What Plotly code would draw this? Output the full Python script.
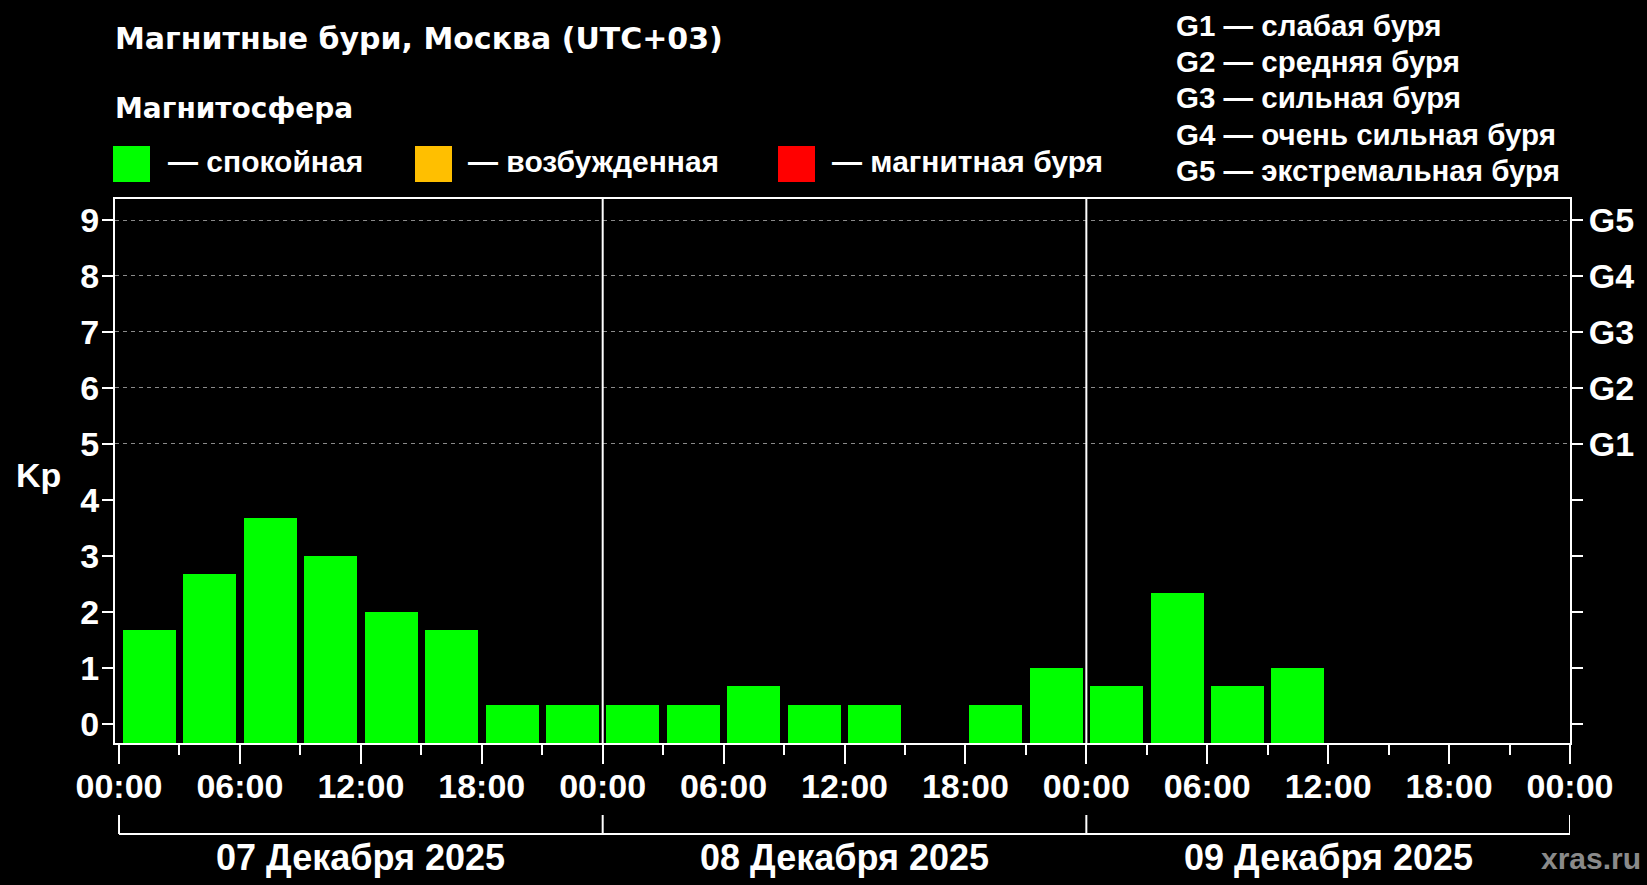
import pandas as pd
import plotly.graph_objects as go

# Kp index, 3-hour intervals, Moscow time (UTC+03)
DAYS = ["2025-12-07", "2025-12-08", "2025-12-09"]
DAY_LABELS = ["07 Декабря 2025", "08 Декабря 2025", "09 Декабря 2025"]
KP_DAY1 = [1.67, 2.67, 3.67, 3.0, 2.0, 1.67, 0.33, 0.33]
KP_DAY2 = [0.33, 0.33, 0.67, 0.33, 0.33, 0.0, 0.33, 1.0]
KP_DAY3 = [0.67, 2.33, 0.67, 1.0]

Y_TICKS = [0, 1, 2, 3, 4, 5, 6, 7, 8, 9]
G_LEVELS = [5, 6, 7, 8, 9]
G_LABELS = ["G1", "G2", "G3", "G4", "G5"]
G_DESCR = ["G1 — слабая буря", "G2 — средняя буря", "G3 — сильная буря",
           "G4 — очень сильная буря", "G5 — экстремальная буря"]
STATES = ["— спокойная", "— возбужденная", "— магнитная буря"]
STATE_COLORS = ["#00ff00", "#ffbf00", "#ff0000"]

W, H = 1647, 885
L, R, T, B = 115, 1570, 199, 743
Y_MIN, Y_MAX = -0.34, 9.375
HOUR = 3600 * 1000
FONT = "Liberation Sans"
WIDE = "DejaVu Sans"


def px(x):
    return (x - L) / (R - L)


def py(y):
    return (B - y) / (B - T)


def kp_color(v):
    if v >= 5:
        return STATE_COLORS[2]
    if v >= 4:
        return STATE_COLORS[1]
    return STATE_COLORS[0]


kp = KP_DAY1 + KP_DAY2 + KP_DAY3
starts = pd.date_range(DAYS[0], periods=len(kp), freq="3h")
df = pd.DataFrame({"start": starts, "kp": kp})
df = df[df["kp"] > 0]
df["mid"] = df["start"] + pd.Timedelta(hours=1.5)

fig = go.Figure()
fig.add_trace(go.Bar(
    x=df["mid"], y=df["kp"] - Y_MIN, base=Y_MIN,
    width=2.63 * HOUR,
    marker=dict(color=[kp_color(v) for v in df["kp"]], line_width=0),
    hovertemplate="%{x|%d.%m %H:%M}<br>Kp %{customdata}<extra></extra>",
    customdata=df["kp"],
))
# invisible trace to activate the right axis
fig.add_trace(go.Scatter(x=[df["mid"].iloc[0]], y=[0], yaxis="y2",
                         mode="markers", marker_opacity=0, showlegend=False,
                         hoverinfo="skip"))

day0 = pd.Timestamp(DAYS[0])
day_end = pd.Timestamp(DAYS[-1]) + pd.Timedelta(days=1)
tick_font = dict(family=FONT, size=34, color="white", weight="bold")

fig.update_layout(
    width=W, height=H,
    margin=dict(l=L, r=W - R, t=T, b=H - B),
    paper_bgcolor="black", plot_bgcolor="black",
    showlegend=False, bargap=0,
    xaxis=dict(
        type="date",
        range=[day0 - pd.Timedelta(minutes=12), day_end],
        tick0=DAYS[0], dtick=6 * HOUR, tickformat="%H:%M",
        ticks="outside", ticklen=19, tickwidth=2, tickcolor="white",
        ticklabelstandoff=-7,
        minor=dict(dtick=3 * HOUR, ticks="outside", ticklen=10,
                   tickwidth=2, tickcolor="white"),
        showline=True, linecolor="white", linewidth=2, mirror=True,
        showgrid=False, zeroline=False, tickfont=tick_font,
    ),
    yaxis=dict(
        range=[Y_MIN, Y_MAX], tickvals=Y_TICKS,
        ticks="outside", ticklen=11, tickwidth=2, tickcolor="white",
        ticklabelstandoff=-4,
        showline=True, linecolor="white", linewidth=2, mirror="ticks",
        showgrid=False, zeroline=False, tickfont=tick_font,
    ),
    yaxis2=dict(
        range=[Y_MIN, Y_MAX], overlaying="y", side="right",
        tickvals=G_LEVELS, ticktext=G_LABELS,
        ticks="outside", ticklen=11, tickwidth=2, tickcolor="white",
        showline=False, zeroline=False,
        showgrid=True, gridcolor="#8a8a8a", gridwidth=1, griddash="4px,4px",
        tickfont=tick_font,
    ),
)

# day separators
for d in DAYS[1:]:
    fig.add_shape(type="line", xref="x", yref="paper", x0=d, x1=d, y0=0, y1=1,
                  line=dict(color="white", width=2))

# day bracket below the axis
fig.add_shape(type="line", xref="x", yref="paper", x0=day0, x1=day_end,
              y0=py(834), y1=py(834), line=dict(color="white", width=2))
for d in DAYS + [day_end]:
    fig.add_shape(type="line", xref="x", yref="paper", x0=d, x1=d,
                  y0=py(815), y1=py(834), line=dict(color="white", width=2))
for d, lab in zip(DAYS, DAY_LABELS):
    fig.add_annotation(x=pd.Timestamp(d) + pd.Timedelta(hours=12), y=py(857),
                       xref="x", yref="paper", text=lab, showarrow=False,
                       font=dict(tick_font, size=36), xanchor="center",
                       yanchor="middle")

# header texts
fig.add_annotation(x=px(113), y=py(38), xref="paper", yref="paper",
                   text="Магнитные бури, Москва (UTC+03)", showarrow=False,
                   xanchor="left", yanchor="middle",
                   font=dict(family=WIDE, size=30, color="white", weight="bold"))
fig.add_annotation(x=px(113), y=py(108), xref="paper", yref="paper",
                   text="Магнитосфера", showarrow=False,
                   xanchor="left", yanchor="middle",
                   font=dict(family=WIDE, size=28, color="white", weight="bold"))

# state legend
sq_x = [113, 415, 778]
txt_x = [166, 466, 830]
for sx, tx, lab, col in zip(sq_x, txt_x, STATES, STATE_COLORS):
    fig.add_shape(type="rect", xref="paper", yref="paper",
                  x0=px(sx), x1=px(sx + 37), y0=py(182), y1=py(146),
                  fillcolor=col, line_width=0)
    fig.add_annotation(x=px(tx), y=py(161), xref="paper", yref="paper",
                       text=lab, showarrow=False, xanchor="left", yanchor="middle",
                       font=dict(family=FONT, size=30, color="white", weight="bold"))

# G scale description
for i, lab in enumerate(G_DESCR):
    fig.add_annotation(x=px(1174), y=py(25.5 + 36.2 * i), xref="paper", yref="paper",
                       text=lab, showarrow=False, xanchor="left", yanchor="middle",
                       font=dict(family=FONT, size=29.5, color="white", weight="bold"))

# axis name and watermark
fig.add_annotation(x=px(38), y=py(475), xref="paper", yref="paper", text="Kp",
                   showarrow=False, xanchor="center", yanchor="middle",
                   font=tick_font)
fig.add_annotation(x=px(1643), y=py(858), xref="paper", yref="paper", text="xras.ru",
                   showarrow=False, xanchor="right", yanchor="middle",
                   font=dict(family=FONT, size=30, color="#8a8a8a", weight="bold"))

fig.write_html("out.html", config={"displayModeBar": False}, post_script=(
    "document.body.style.margin='0';"
    "document.body.style.background='black';"
))
